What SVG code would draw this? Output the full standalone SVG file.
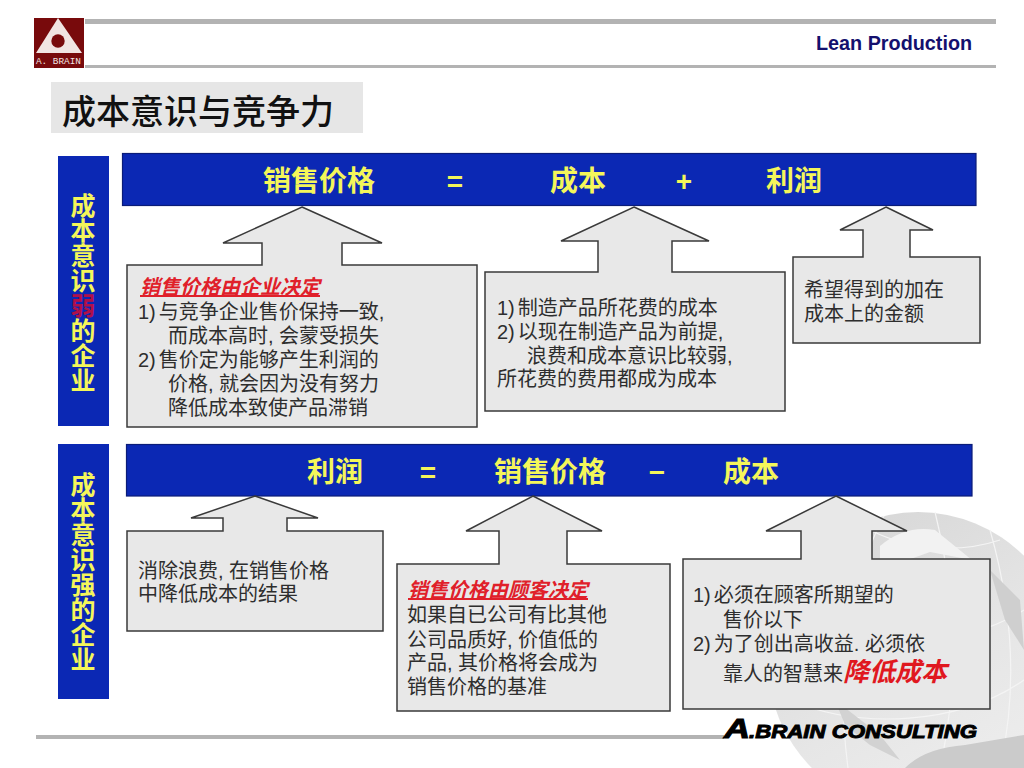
<svg xmlns="http://www.w3.org/2000/svg" width="1024" height="768" viewBox="0 0 1024 768">
<style>
text{font-family:"Liberation Sans","Noto Sans CJK SC",sans-serif}
.rule{fill:#b3b3b3}
.bar{fill:#0b28b4;stroke:#0a1c78;stroke-width:1.2}
.side{fill:#0b28b4}
.bt{font-size:28px;font-weight:700;fill:#f4f65a;text-anchor:middle}
.vt{font-size:25px;font-weight:700;fill:#f4f65a;writing-mode:vertical-rl}
.call{fill:#e8e8e8;stroke:#3a3a3a;stroke-width:1.5;stroke-linejoin:miter}
.tx{font-size:20px;fill:#2e2e2e}
.hd{font-size:20px;font-weight:700;font-style:italic;fill:#e0202a;text-decoration:underline}
.gl{fill:none;stroke:#f4f4f4;stroke-width:1.2}
</style>
<defs>
<linearGradient id="globe" x1="0.2" y1="0" x2="0.8" y2="1">
<stop offset="0" stop-color="#d6d6d6"/>
<stop offset="0.55" stop-color="#e6e6e6"/>
<stop offset="1" stop-color="#efefef"/>
</linearGradient>
</defs>
<rect width="1024" height="768" fill="#ffffff"/>
<g id="globe-bg">
<circle cx="918" cy="662" r="150" fill="url(#globe)"/>
<path class="gl" d="M884 516C850 580 835 670 848 768M935 512C955 590 960 680 940 768M990 530C1010 600 1020 680 1000 768M800 620C860 650 960 650 1024 610M790 700C860 730 960 725 1024 680M870 530C920 555 970 550 1000 540"/>
<path d="M880 546Q905 525 935 530L972 560 930 552 880 570Z" fill="#f2f2f2"/>
<path d="M990 570L1020 600 1024 650 1005 620Z" fill="#cfcfcf"/>
<path d="M905 768Q925 748 965 745L1024 735V768Z" fill="#cbcbcb"/>
<path d="M835 700L880 735 900 760 870 745 845 725Z" fill="#d2d2d2"/>
</g>
<g id="header">
<rect class="rule" x="85" y="19" width="911" height="5"/>
<rect class="rule" x="85" y="65" width="911" height="3"/>
<text x="816" y="50" fill="#14106e" style="font-size:19.8px;font-weight:700">Lean Production</text>
</g>
<g id="logo">
<rect x="34" y="18" width="50" height="50" fill="#780a0c"/>
<polygon points="58,18 82,53 36,53" fill="#f1e4e2"/>
<circle cx="58" cy="41" r="6.7" fill="#780a0c"/>
<text x="36" y="64" textLength="45" fill="#f1e4e2" style="font-family:'Liberation Mono',monospace;font-size:9.4px">A. BRAIN</text>
</g>
<g id="title">
<rect x="51" y="82" width="312" height="51" fill="#e6e6e6"/>
<text x="62" y="124" style="font-size:34px;font-weight:500" fill="#111111">成本意识与竞争力</text>
</g>
<g id="side-weak">
<rect class="side" x="58" y="156" width="51" height="270"/>
<text class="vt" x="81" y="193">成本意识<tspan fill="#b0104a">弱</tspan>的企业</text>
</g>
<g id="side-strong">
<rect class="side" x="58" y="444" width="51" height="255"/>
<text class="vt" x="81" y="472">成本意识强的企业</text>
</g>
<g id="bar-top">
<rect class="bar" x="122.500" y="153.500" width="853.500" height="52"/>
<text class="bt" x="319" y="191">销售价格</text>
<text class="bt" x="455" y="191">=</text>
<text class="bt" x="578" y="191">成本</text>
<text class="bt" x="684" y="191">+</text>
<text class="bt" x="794" y="191">利润</text>
</g>
<g id="bar-bottom">
<rect class="bar" x="126.500" y="444.500" width="845.500" height="51.500"/>
<text class="bt" x="335" y="482">利润</text>
<text class="bt" x="428" y="482">=</text>
<text class="bt" x="550" y="482">销售价格</text>
<text class="bt" x="657" y="482">−</text>
<text class="bt" x="751" y="482">成本</text>
</g>
<g id="box-price">
<path class="call" d="M302 207L382 243H342V265H477V427H127V265H262V243H223Z"/>
<text class="hd" x="140" y="294">销售价格由企业决定</text>
<text class="tx" x="138" y="319">1)<tspan dx="3">与竞争企业售价保持一致,</tspan></text>
<text class="tx" x="168" y="343">而成本高时, 会蒙受损失</text>
<text class="tx" x="138" y="367">2)<tspan dx="3">售价定为能够产生利润的</tspan></text>
<text class="tx" x="168" y="391">价格, 就会因为没有努力</text>
<text class="tx" x="168" y="415">降低成本致使产品滞销</text>
</g>
<g id="box-cost">
<path class="call" d="M634 207L709 241H672V272H785V411H485V272H598V241H561Z"/>
<text class="tx" x="497" y="315">1)<tspan dx="3">制造产品所花费的成本</tspan></text>
<text class="tx" x="497" y="339">2)<tspan dx="3">以现在制造产品为前提,</tspan></text>
<text class="tx" x="527" y="363">浪费和成本意识比较弱,</text>
<text class="tx" x="497" y="386">所花费的费用都成为成本</text>
</g>
<g id="box-profit">
<path class="call" d="M886 207L933 230H910V257H980V343H793V257H863V230H840Z"/>
<text class="tx" x="804" y="297">希望得到的加在</text>
<text class="tx" x="804" y="321">成本上的金额</text>
</g>
<g id="box-waste">
<path class="call" d="M255 496L318 518H287V531H383V631H127V531H223V518H191Z"/>
<text class="tx" x="138" y="578">消除浪费, 在销售价格</text>
<text class="tx" x="138" y="601">中降低成本的结果</text>
</g>
<g id="box-customer">
<path class="call" d="M533 496L602 531H567V564H670V711H397V564H499V531H466Z"/>
<text class="hd" x="408" y="597">销售价格由顾客决定</text>
<text class="tx" x="407" y="622">如果自已公司有比其他</text>
<text class="tx" x="407" y="647">公司品质好, 价值低的</text>
<text class="tx" x="407" y="670">产品, 其价格将会成为</text>
<text class="tx" x="407" y="694">销售价格的基准</text>
</g>
<g id="box-lower">
<path class="call" d="M836 496L907 531H872V559H990V709H683V559H801V531H766Z"/>
<text class="tx" x="693" y="602">1)<tspan dx="3">必须在顾客所期望的</tspan></text>
<text class="tx" x="723" y="627">售价以下</text>
<text class="tx" x="693" y="651">2)<tspan dx="3">为了创出高收益. 必须依</tspan></text>
<text class="tx" x="723" y="681">靠人的智慧来</text>
<text x="843" y="681" style="font-size:26px;font-weight:700;font-style:italic" fill="#e0181f">降低成本</text>
</g>
<g id="footer">
<rect class="rule" x="36" y="735" width="688" height="4"/>
<text x="724" y="738" textLength="26" lengthAdjust="spacingAndGlyphs" stroke="#000" stroke-width="1" style="font-size:27px;font-weight:700;font-style:italic">A</text>
<text x="749" y="738" textLength="228" lengthAdjust="spacingAndGlyphs" stroke="#000" stroke-width="1" style="font-size:19px;font-weight:700;font-style:italic">.BRAIN CONSULTING</text>
</g>
</svg>
